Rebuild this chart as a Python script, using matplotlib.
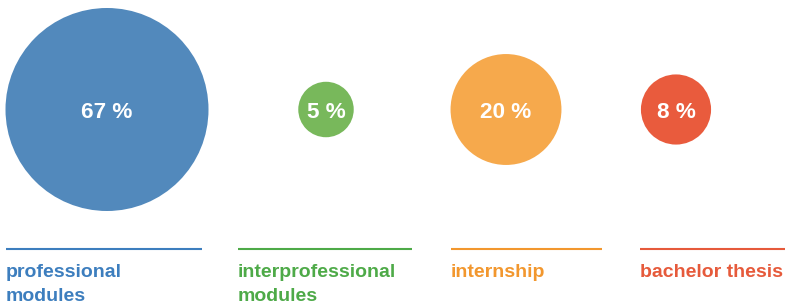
import matplotlib
matplotlib.use('Agg')
import matplotlib.pyplot as plt
from matplotlib.patches import Circle

# data
categories = ['professional\nmodules', 'interprofessional\nmodules', 'internship', 'bachelor thesis']
shares = [67, 5, 20, 8]
pct_labels = ['67 %', '5 %', '20 %', '8 %']

# styles
circle_colors = ['#5289BC', '#78B85B', '#F6A94C', '#E95B3D']
text_colors = ['#3D7EBE', '#4EAA48', '#F2972E', '#E65A3B']

# layout (pixel units)
centers_x = [107, 326, 506, 676]
center_y = 109.5
max_radius = 101.5
line_x0 = [6, 238, 451, 640]
line_x1 = [202, 412, 602, 785]
line_y = 249
first_baseline = 277
line_step = 23.6

plt.rcParams['font.family'] = ['Liberation Sans', 'DejaVu Sans']

fig = plt.figure(figsize=(7.87, 3.04), dpi=100)
ax = fig.add_axes([0, 0, 1, 1])
ax.set_xlim(0, 787)
ax.set_ylim(304, 0)
ax.axis('off')

for i, (cat, v) in enumerate(zip(categories, shares)):
    # area proportional to the share
    r = max_radius * (v / max(shares)) ** 0.5
    ax.add_patch(Circle((centers_x[i], center_y), r, color=circle_colors[i], lw=0))
    ax.text(centers_x[i], center_y + 8.6, pct_labels[i], color='white',
            fontsize=16.2, fontweight='bold', ha='center', va='baseline')

    ax.plot([line_x0[i], line_x1[i]], [line_y, line_y], color=text_colors[i],
            lw=1.5, solid_capstyle='butt')
    for k, part in enumerate(cat.split('\n')):
        ax.text(line_x0[i], first_baseline + k * line_step, part, color=text_colors[i],
                fontsize=14, fontweight='bold', ha='left', va='baseline')

fig.savefig('out.png', dpi=100)
